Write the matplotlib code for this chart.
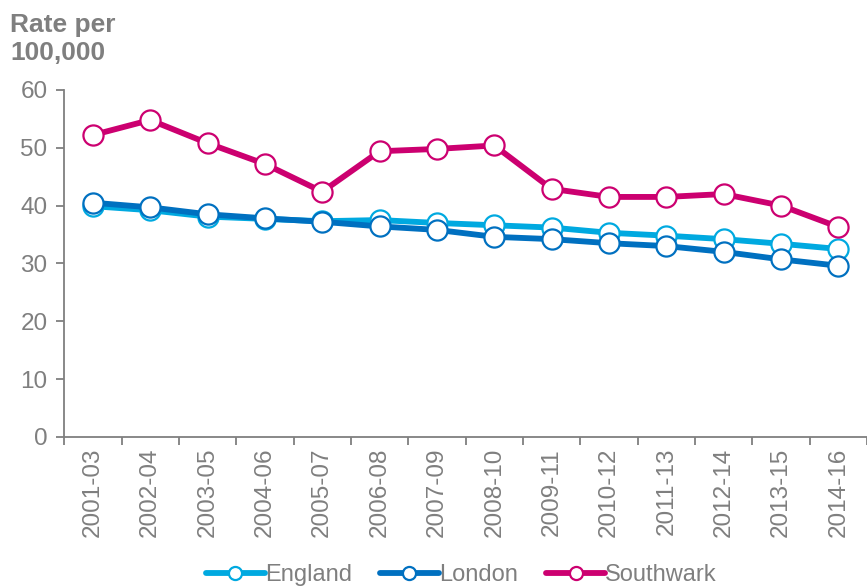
"""Rate per 100,000: England, London and Southwark, 2001-03 to 2014-16."""

import matplotlib
matplotlib.use("Agg")
import matplotlib.pyplot as plt
import numpy as np

periods = [
    "2001-03", "2002-04", "2003-05", "2004-06", "2005-07", "2006-08", "2007-09",
    "2008-10", "2009-11", "2010-12", "2011-13", "2012-14", "2013-15", "2014-16",
]
england = [39.9, 39.2, 38.1, 37.7, 37.3, 37.5, 37.0, 36.6, 36.2, 35.3, 34.8, 34.2, 33.4, 32.5]
london = [40.5, 39.7, 38.5, 37.8, 37.2, 36.4, 35.8, 34.6, 34.2, 33.5, 33.0, 32.0, 30.7, 29.6]
southwark = [52.2, 54.8, 50.8, 47.2, 42.4, 49.4, 49.8, 50.4, 42.9, 41.5, 41.5, 42.0, 40.0, 36.3]

series = [
    ("England", england, "#00a9e0"),
    ("London", london, "#0070c0"),
    ("Southwark", southwark, "#cc0070"),
]

GREY = "#7f7f7f"
plt.rcParams["font.family"] = ["Liberation Sans", "DejaVu Sans"]

fig = plt.figure(figsize=(8.67, 5.88), dpi=100)
ax = fig.add_axes([0.074, 0.257, 0.926, 0.59])

x = np.arange(len(periods))
for name, values, colour in series:
    ax.plot(x, values, color=colour, lw=4.2, marker="o", ms=14.5,
            mfc="white", mec=colour, mew=1.6, label=name, solid_capstyle="round")

ax.set_xlim(-0.5, len(periods) - 0.5)
ax.set_ylim(0, 60)
ax.set_yticks(range(0, 61, 10))
ax.set_xticks(x)
ax.set_xticklabels(periods, rotation=90)
ax.set_xticks(np.arange(-0.5, len(periods)), minor=True)

for side in ("top", "right"):
    ax.spines[side].set_visible(False)
for side in ("left", "bottom"):
    ax.spines[side].set_color(GREY)
    ax.spines[side].set_linewidth(1.3)

ax.tick_params(axis="x", which="major", length=0, pad=8, labelsize=17.5, labelcolor=GREY)
ax.tick_params(axis="x", which="minor", length=6, width=1.3, color=GREY)
ax.tick_params(axis="y", length=6, width=1.3, color=GREY, labelsize=17.5,
               labelcolor=GREY, pad=6)

fig.text(0.012, 0.978, "Rate per\n100,000", ha="left", va="top",
         fontsize=19, fontweight="bold", color=GREY, linespacing=1.2)

ax.legend(loc="center", bbox_to_anchor=(0.532, 0.022), bbox_transform=fig.transFigure,
          ncol=3, frameon=False, fontsize=17, labelcolor=GREY, handlelength=2.5,
          handletextpad=0.0, columnspacing=1.2, markerscale=0.65, borderaxespad=0,
          borderpad=0)

fig.savefig("out.png", dpi=100)
